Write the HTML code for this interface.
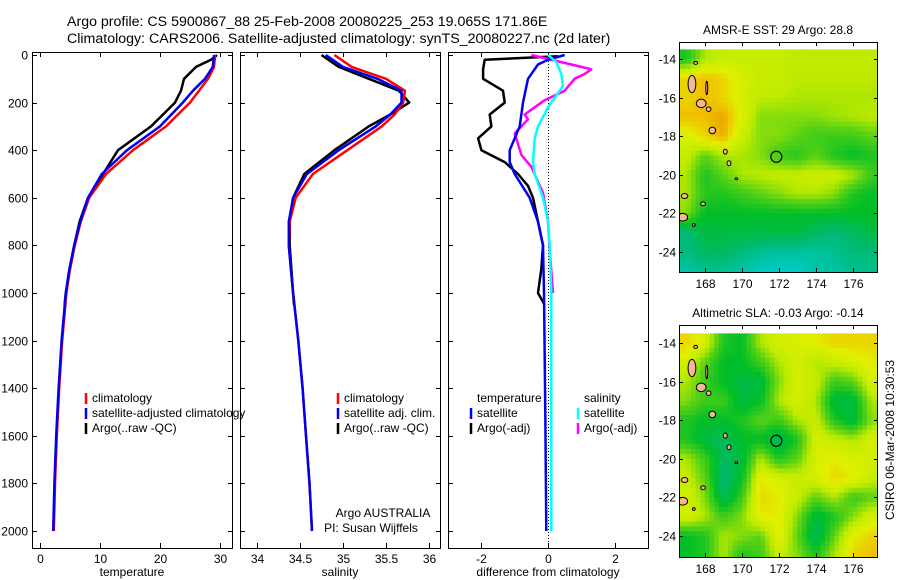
<!DOCTYPE html>
<html><head><meta charset="utf-8"><style>
html,body{margin:0;padding:0;background:#fff;}
svg{display:block;font-family:"Liberation Sans",sans-serif;}
</style></head><body>
<svg id="chart" width="900" height="580" viewBox="0 0 900 580" xmlns="http://www.w3.org/2000/svg">
<text x="67" y="26" font-size="14.2">Argo profile: CS 5900867_88 25-Feb-2008 20080225_253 19.065S 171.86E</text>
<text x="67" y="43" font-size="14.2">Climatology: CARS2006. Satellite-adjusted climatology: synTS_20080227.nc (2d later)</text>
<text transform="translate(894,440) rotate(-90)" text-anchor="middle" font-size="12">CSIRO 06-Mar-2008 10:30:53</text>
<g id="g"></g>
</svg>
<script>
// ---- profile data ----
const tDepth=[0,50,100,150,200,300,400,500,600,700,800,900,1000,1200,1400,1600,1800,2000];
const tClim=[29.2,29,28,26.5,25,21,15.5,11,8.2,6.8,5.8,5,4.4,3.7,3.2,2.8,2.5,2.3];
const tSat=[29,28.8,27.5,25.5,23.8,20,14.5,10.3,8,6.7,5.7,4.9,4.3,3.6,3.1,2.7,2.4,2.2];
const tArgoDepth=[0,20,50,100,150,200,300,400,500,600,700,800,900,1000,1050];
const tArgo=[29.5,28.5,26,24,23.5,22.5,18.5,13,10.5,8,6.6,5.7,4.9,4.3,4.1];
const sDepth=[0,50,100,150,200,250,300,400,500,600,700,800,1000,1200,1400,1600,1800,2000];
const sClim=[34.9,35.1,35.5,35.72,35.7,35.6,35.45,35.05,34.65,34.45,34.38,34.37,34.42,34.48,34.53,34.57,34.61,34.64];
const sSat=[34.8,35.0,35.4,35.68,35.68,35.55,35.38,34.95,34.58,34.42,34.37,34.37,34.42,34.48,34.53,34.57,34.61,34.64];
const sArgoDepth=[0,50,100,150,200,250,300,400,500,600,700,800,900,1000,1050];
const sArgo=[34.75,34.95,35.3,35.65,35.77,35.55,35.3,34.9,34.55,34.42,34.38,34.38,34.4,34.42,34.43];
const dTArgoDepth=[5,20,60,100,150,200,250,300,350,400,450,500,550,600,700,800,900,1000,1050];
const dTArgo=[0.3,-1.9,-1.95,-1.95,-1.35,-1.3,-1.75,-1.7,-2.1,-2.0,-1.3,-0.9,-0.6,-0.45,-0.3,-0.15,-0.2,-0.3,-0.1];
const dTSatDepth=[0,20,40,100,200,300,400,450,500,600,700,800,1000,1500,2000];
const dTSat=[0.5,0,-0.3,-0.6,-0.75,-0.85,-1.15,-1.15,-1.0,-0.55,-0.3,-0.15,-0.12,-0.08,-0.05];
const dSSatDepth=[0,30,80,130,170,220,300,350,450,500,600,700,800,1000,1500,2000];
const dSSat=[0,0.25,0.4,0.45,0.25,0,-0.3,-0.4,-0.45,-0.4,-0.15,0,0.05,0.1,0.1,0.1];
const dSArgoDepth=[0,30,50,60,80,100,150,190,230,250,270,330,420,470,580,700,820,1000];
const dSArgo=[-0.5,0.4,1.0,1.3,1.1,0.8,0.5,-0.1,-0.5,-0.7,-0.6,-1.0,-0.8,-0.5,-0.15,0,0.05,0.15];
const depthTicks=[0,200,400,600,800,1000,1200,1400,1600,1800,2000];
const tTicks=[0,10,20,30];
const sTicks=[34,34.5,35,35.5,36];
const dTicks=[-2,0,2];
// ---- map data (rows lat -14..-25, cols lon 167..177), normalised 0..1 ----
const mapLats=[-14,-15,-16,-17,-18,-19,-20,-21,-22,-23,-24,-25];
const mapLons=[167,168,169,170,171,172,173,174,175,176,177];
const sstGrid=[
[0.4,0.6,0.65,0.65,0.65,0.65,0.62,0.62,0.62,0.62,0.62],
[0.8,0.85,0.8,0.7,0.65,0.65,0.62,0.62,0.62,0.62,0.62],
[0.8,0.85,0.8,0.7,0.62,0.62,0.6,0.6,0.6,0.6,0.6],
[0.85,0.85,0.9,0.72,0.55,0.55,0.55,0.55,0.58,0.6,0.62],
[0.7,0.8,0.88,0.65,0.55,0.55,0.5,0.45,0.45,0.45,0.5],
[0.65,0.5,0.6,0.6,0.55,0.45,0.42,0.5,0.4,0.35,0.4],
[0.6,0.4,0.5,0.6,0.62,0.64,0.64,0.66,0.66,0.6,0.45],
[0.6,0.42,0.4,0.45,0.5,0.55,0.6,0.6,0.55,0.4,0.35],
[0.55,0.35,0.35,0.35,0.35,0.35,0.35,0.35,0.35,0.35,0.35],
[0.2,0.3,0.3,0.3,0.3,0.3,0.3,0.25,0.2,0.25,0.3],
[0.18,0.25,0.25,0.2,0.15,0.12,0.12,0.12,0.15,0.2,0.2],
[0.1,0.15,0.15,0.1,0.05,0.03,0.03,0.1,0.1,0.15,0.15]];
const slaGrid=[
[0.8,0.7,0.4,0.35,0.6,0.7,0.7,0.75,0.8,0.8,0.8],
[0.7,0.5,0.35,0.35,0.45,0.6,0.7,0.6,0.65,0.7,0.75],
[0.6,0.45,0.35,0.3,0.3,0.55,0.7,0.65,0.45,0.5,0.7],
[0.55,0.45,0.45,0.3,0.35,0.6,0.7,0.6,0.3,0.3,0.6],
[0.4,0.35,0.35,0.4,0.5,0.45,0.6,0.65,0.4,0.3,0.55],
[0.4,0.3,0.25,0.35,0.35,0.25,0.4,0.7,0.65,0.6,0.7],
[0.6,0.45,0.25,0.3,0.6,0.4,0.5,0.7,0.75,0.7,0.7],
[0.65,0.5,0.2,0.35,0.75,0.7,0.65,0.7,0.8,0.75,0.65],
[0.7,0.55,0.25,0.45,0.8,0.75,0.65,0.5,0.6,0.45,0.5],
[0.7,0.6,0.45,0.55,0.75,0.75,0.55,0.3,0.4,0.55,0.7],
[0.35,0.4,0.6,0.55,0.5,0.75,0.5,0.25,0.5,0.75,0.8],
[0.35,0.4,0.6,0.4,0.45,0.65,0.55,0.4,0.6,0.8,0.85]];
const mapLatTicks=[-14,-16,-18,-20,-22,-24];
const mapLonTicks=[168,170,172,174,176];
const floatLon=171.86, floatLat=-19.065;

const NS='http://www.w3.org/2000/svg';
const G=document.getElementById('g');
function mk(tag,attrs,parent){const e=document.createElementNS(NS,tag);for(const k in attrs)e.setAttribute(k,attrs[k]);(parent||G).appendChild(e);return e;}
function yD(d){return 55+d*(476/2000);}

const panels=[
 {name:'temperature',x0:32,x1:232,sx:v=>40+v*6,ticks:tTicks,label:'temperature'},
 {name:'salinity',x0:240,x1:440,sx:v=>257+(v-34)*86,ticks:sTicks,label:'salinity'},
 {name:'difference',x0:448,x1:648,sx:v=>548+v*33.3,ticks:dTicks,label:'difference from climatology'}];
const PT=52,PB=548;
panels.forEach((p,i)=>{
 const g=mk('g',{});
 
 
 mk('rect',{x:p.x0+0.5,y:PT+0.5,width:p.x1-p.x0,height:PB-PT,fill:'#fff',stroke:'#000','stroke-width':1},g);
 p.ticks.forEach(t=>{const x=Math.round(p.sx(t))+0.5;
  mk('line',{x1:x,x2:x,y1:PB,y2:PB-5,stroke:'#000'},g);
  mk('line',{x1:x,x2:x,y1:PT,y2:PT+5,stroke:'#000'},g);
  const tx=mk('text',{x:x,y:PB+15,'text-anchor':'middle','font-size':12},g);tx.textContent=String(t);
  
  });
 depthTicks.forEach(d=>{const y=Math.round(yD(d))+0.5;
  mk('line',{x1:p.x0,x2:p.x0+5,y1:y,y2:y,stroke:'#000'},g);
  mk('line',{x1:p.x1-4,x2:p.x1+1,y1:y,y2:y,stroke:'#000'},g);
  if(i===0){const tx=mk('text',{x:p.x0-4,y:y+4,'text-anchor':'end','font-size':12},g);tx.textContent=String(d);
   
   }});
 const lab=mk('text',{x:(p.x0+p.x1)/2,y:PB+28,'text-anchor':'middle','font-size':12},g);lab.textContent=p.label;
 
 
});
function line(p,depths,vals,color,name){
 const pts=depths.map((d,i)=>p.sx(vals[i]).toFixed(1)+','+yD(d).toFixed(1)).join(' ');
 const e=mk('polyline',{points:pts,fill:'none',stroke:color,'stroke-width':2.5,'stroke-linejoin':'round'});
 
 
}
const P=panels;
line(P[0],tArgoDepth,tArgo,'#000','argo-temperature-line');
line(P[0],tDepth,tClim,'#f00','climatology-temperature-line');
line(P[0],tDepth,tSat,'#0000f0','satellite-temperature-line');
line(P[1],sArgoDepth,sArgo,'#000','argo-salinity-line');
line(P[1],sDepth,sClim,'#f00','climatology-salinity-line');
line(P[1],sDepth,sSat,'#0000f0','satellite-salinity-line');
mk('line',{x1:548.5,x2:548.5,y1:PT,y2:PB,stroke:'#000','stroke-dasharray':'1,2'});
line(P[2],dTArgoDepth,dTArgo,'#000','argo-temperature-diff-line');
line(P[2],dSArgoDepth,dSArgo,'#f0f','argo-salinity-diff-line');
line(P[2],dTSatDepth,dTSat,'#0000f0','satellite-temperature-diff-line');
line(P[2],dSSatDepth,dSSat,'#0ff','satellite-salinity-diff-line');

function legend(x,y,entries,name){
 const g=mk('g',{});
 entries.forEach((en,i)=>{const yy=y+i*15;
  if(en[0])mk('line',{x1:x,x2:x,y1:yy-9,y2:yy+2,stroke:en[0],'stroke-width':2.5},g);
  const t=mk('text',{x:x+6,y:yy,'font-size':12},g);t.textContent=en[1];
  
  });
}
legend(86,402,[['#f00','climatology'],['#0000f0','satellite-adjusted climatology'],['#000',"Argo(..raw -QC)"]],'temperature-legend');
legend(338,402,[['#f00','climatology'],['#0000f0','satellite adj. clim.'],['#000',"Argo(..raw -QC)"]],'salinity-legend');
legend(471,402,[[null,'temperature'],['#0000f0','satellite'],['#000','Argo(-adj)']],'diff-temperature-legend');
legend(578,402,[[null,'salinity'],['#0ff','satellite'],['#f0f','Argo(-adj)']],'diff-salinity-legend');
const a1=mk('text',{x:383,y:517,'text-anchor':'middle','font-size':12});a1.textContent='Argo AUSTRALIA';

const a2=mk('text',{x:371,y:532,'text-anchor':'middle','font-size':12});a2.textContent='PI: Susan Wijffels';


// ---- maps ----
const stops=[[0,[0,205,215]],[0.22,[0,185,110]],[0.35,[0,190,40]],[0.5,[90,210,20]],[0.62,[190,235,0]],[0.74,[225,240,0]],[0.84,[240,195,0]],[1,[225,110,0]]];
function cmap(v){for(let i=1;i<stops.length;i++){if(v<=stops[i][0]){const a=stops[i-1],b=stops[i],t=(v-a[0])/(b[0]-a[0]);
 return 'rgb('+a[1].map((c,k)=>Math.round(c+(b[1][k]-c)*t)).join(',')+')';}}return 'rgb(225,110,0)';}
const islands=[[167.3,-15.3,0.2,0.45],[167.8,-16.3,0.25,0.22],[168.2,-16.6,0.12,0.12],[168.4,-17.7,0.17,0.17],[169.1,-18.8,0.1,0.13],[169.3,-19.4,0.1,0.13],[166.9,-21.1,0.17,0.13],[167.9,-21.5,0.12,0.1],[166.8,-22.2,0.25,0.2],[167.4,-22.6,0.07,0.07],[169.7,-20.2,0.07,0.05],[167.5,-14.2,0.1,0.08],[168.1,-15.5,0.05,0.35]];
function drawMap(m){
 const lx=v=>m.x0+(v-166.6)*(m.x1-m.x0)/(177.3-166.6);
 const ly=v=>m.yA+(v-(-14))*(m.yB-m.yA)/(-10);
 const g=mk('g',{});
 const cid='clip'+m.name;const cp=mk('clipPath',{id:cid},g);mk('rect',{x:m.x0,y:m.yT,width:m.x1-m.x0,height:m.yBot-m.yT},cp);
 const cells=mk('g',{'clip-path':'url(#'+cid+')'},g);
 const sub=4;
 mapLats.forEach((lat,r)=>mapLons.forEach((lon,c)=>{
  for(let a=0;a<sub;a++)for(let b=0;b<sub;b++){
   const fr=(a+0.5)/sub-0.5, fc=(b+0.5)/sub-0.5;
   const rr=Math.min(mapLats.length-1,Math.max(0,r+fr)), cc=Math.min(mapLons.length-1,Math.max(0,c+fc));
   const r0=Math.floor(rr),c0=Math.floor(cc),r1=Math.min(r0+1,mapLats.length-1),c1=Math.min(c0+1,mapLons.length-1),tr=rr-r0,tc=cc-c0;
   const G2=m.grid;
   const v=G2[r0][c0]*(1-tr)*(1-tc)+G2[r0][c1]*(1-tr)*tc+G2[r1][c0]*tr*(1-tc)+G2[r1][c1]*tr*tc;
   const x=lx(lon-0.5+b/sub),y=ly(lat+0.5-a/sub);
   const cell=mk('rect',{x:x.toFixed(1),y:y.toFixed(1),width:((m.x1-m.x0)/10.7/sub+0.6).toFixed(1),height:((m.yB-m.yA)/10/sub+0.6).toFixed(1),fill:cmap(v)},cells);
   
   
  }}));
 islands.forEach(s=>{mk('ellipse',{cx:lx(s[0]),cy:ly(s[1]),rx:s[2]*19.5,ry:s[3]*19.3,fill:'#f4b890',stroke:'#000','stroke-width':1},cells);});
 const mk1=mk('circle',{cx:lx(floatLon),cy:ly(floatLat),r:5.5,fill:'none',stroke:'#000','stroke-width':1.2},g);
 
 mk('rect',{x:m.x0+0.5,y:m.yT+0.5,width:m.x1-m.x0,height:m.yBot-m.yT,fill:'none',stroke:'#000'},g);
 mapLatTicks.forEach(t=>{const y=Math.round(ly(t))+0.5;
  mk('line',{x1:m.x0,x2:m.x0+4,y1:y,y2:y,stroke:'#000'},g);mk('line',{x1:m.x1-3,x2:m.x1+1,y1:y,y2:y,stroke:'#000'},g);
  const tx=mk('text',{x:m.x0-3,y:y+4,'text-anchor':'end','font-size':12},g);tx.textContent=String(t);
  });
 mapLonTicks.forEach(t=>{const x=Math.round(lx(t))+0.5;
  mk('line',{x1:x,x2:x,y1:m.yBot,y2:m.yBot-4,stroke:'#000'},g);mk('line',{x1:x,x2:x,y1:m.yT,y2:m.yT+4,stroke:'#000'},g);
  const tx=mk('text',{x:x,y:m.yBot+16,'text-anchor':'middle','font-size':12},g);tx.textContent=String(t);
  });
 const tt=mk('text',{x:(m.x0+m.x1)/2,y:m.yT-8,'text-anchor':'middle','font-size':12},g);tt.textContent=m.title;
 
}
drawMap({name:'sst-map',grid:sstGrid,x0:679,x1:877,yT:42,yBot:272,yA:59,yB:252,title:'AMSR-E SST: 29 Argo: 28.8'});
drawMap({name:'sla-map',grid:slaGrid,x0:679,x1:877,yT:325,yBot:557,yA:343,yB:536,title:'Altimetric SLA: -0.03 Argo: -0.14'});
</script>
</body></html>
